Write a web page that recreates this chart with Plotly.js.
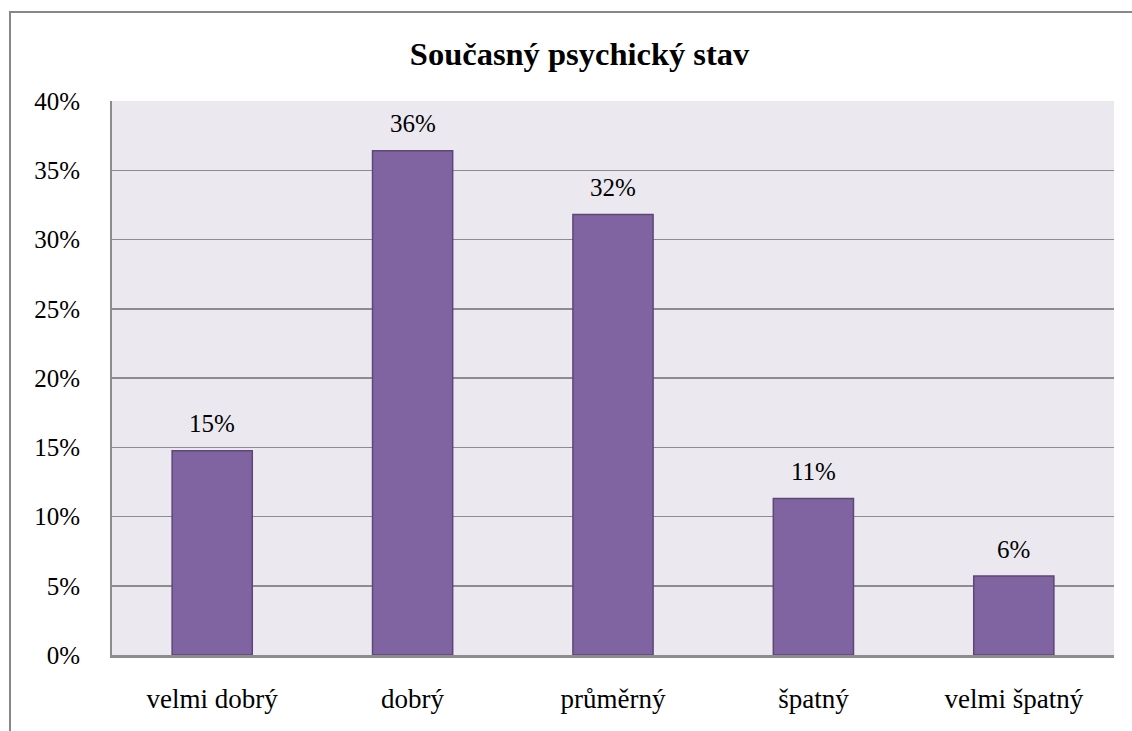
<!DOCTYPE html>
<html>
<head>
<meta charset="utf-8">
<script src="https://cdn.plot.ly/plotly-3.0.1.min.js"></script>
<style>html,body{margin:0;padding:0;background:#fff;}#chart{width:1132px;height:731px;}</style>
</head>
<body>
<div id="chart"></div>
<script>
const categories = ["velmi dobrý", "dobrý", "průměrný", "špatný", "velmi špatný"];
const values = [0.1475, 0.364, 0.318, 0.113, 0.057];
const valueLabels = ["15%", "36%", "32%", "11%", "6%"];
const yTicks = [0, 0.05, 0.10, 0.15, 0.20, 0.25, 0.30, 0.35, 0.40];
const chartTitle = "Současný psychický stav";

const font = "Liberation Serif, serif";
const trace = {
  type: "bar",
  x: categories,
  y: values,
  marker: {color: "#8064A2", line: {color: "#5C4776", width: 1.5}},
  hoverinfo: "none"
};
const annotations = categories.map((c, i) => ({
  x: c, y: values[i], xref: "x", yref: "y",
  text: valueLabels[i], showarrow: false,
  yanchor: "middle", yshift: 27,
  font: {family: font, size: 25, color: "#000"}
}));
const layout = {
  width: 1132, height: 731,
  margin: {l: 112, r: 18, t: 101, b: 76},
  paper_bgcolor: "#ffffff",
  plot_bgcolor: "#EBE9EF",
  bargap: 0.6,
  showlegend: false,
  title: {text: "<b>" + chartTitle + "</b>", font: {family: font, size: 32.5, color: "#000"}, x: 0.512, xanchor: "center", y: 0.926, yanchor: "middle", xref: "container", yref: "container"},
  xaxis: {
    showgrid: false, showline: true, linecolor: "#8c8c8c", linewidth: 3,
    ticks: "", tickfont: {family: font, size: 27, color: "#000"}, ticklabelstandoff: 18
  },
  yaxis: {
    range: [0, 0.40], tickvals: yTicks, tickformat: ".0%",
    showgrid: true, gridcolor: "#8c8c8c", gridwidth: 1.5,
    zeroline: false, showline: true, linecolor: "#8c8c8c", linewidth: 2,
    ticks: "", tickfont: {family: font, size: 25, color: "#000"}, ticklabelstandoff: 25
  },
  annotations: annotations,
  shapes: [{
    type: "rect", xref: "paper", yref: "paper",
    x0: (10 - 112) / 1002, x1: (1145 - 112) / 1002,
    y0: (655 - 745) / 554, y1: (655 - 12) / 554,
    line: {color: "#878787", width: 2}, fillcolor: "rgba(0,0,0,0)", layer: "below"
  }]
};
Plotly.newPlot("chart", [trace], layout, {displayModeBar: false, staticPlot: true});
</script>
</body>
</html>
